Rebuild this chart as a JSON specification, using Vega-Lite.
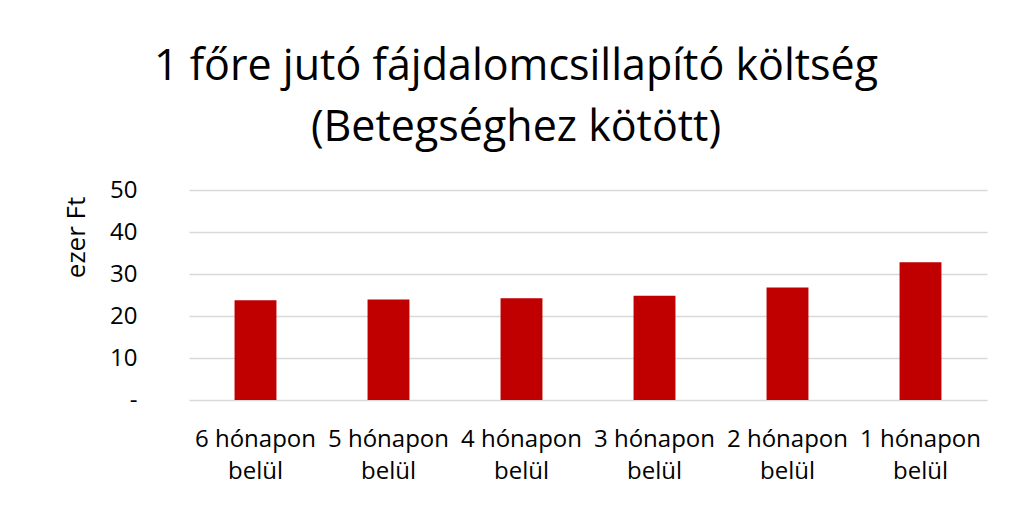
{
  "$schema": "https://vega.github.io/schema/vega-lite/v6.json",
  "width": 798,
  "height": 210,
  "autosize": "none",
  "padding": {"left": 189, "top": 190, "right": 39, "bottom": 109},
  "background": "white",
  "config": {
    "view": {"stroke": null},
    "font": "Open Sans"
  },
  "title": {
    "text": ["1 főre jutó fájdalomcsillapító költség", "(Betegséghez kötött)"],
    "fontSize": 43,
    "fontWeight": "normal",
    "color": "#000000",
    "lineHeight": 61,
    "anchor": "middle",
    "dx": -72,
    "offset": 28,
    "font": "Open Sans"
  },
  "data": {
    "values": [
      {"kategoria": "6 hónapon belül", "ertek": 23.75},
      {"kategoria": "5 hónapon belül", "ertek": 23.9},
      {"kategoria": "4 hónapon belül", "ertek": 24.2},
      {"kategoria": "3 hónapon belül", "ertek": 24.8},
      {"kategoria": "2 hónapon belül", "ertek": 26.8},
      {"kategoria": "1 hónapon belül", "ertek": 32.8}
    ]
  },
  "mark": {"type": "bar", "color": "#c00000", "width": {"band": 0.315}},
  "encoding": {
    "x": {
      "field": "kategoria",
      "type": "nominal",
      "sort": null,
      "scale": {"paddingInner": 0, "paddingOuter": 0},
      "axis": {
        "title": null,
        "labelAngle": 0,
        "labelExpr": "[slice(datum.label, 0, 9), slice(datum.label, 10)]",
        "labelFontSize": 24,
        "labelLineHeight": 32,
        "labelColor": "#000000",
        "labelPadding": 27,
        "ticks": false,
        "domain": false,
        "labelFont": "Open Sans"
      }
    },
    "y": {
      "field": "ertek",
      "type": "quantitative",
      "scale": {"domain": [0, 50]},
      "axis": {
        "title": "ezer Ft",
        "titleFontSize": 26,
        "titleFontWeight": "normal",
        "titleColor": "#000000",
        "titleX": -113,
        "titleY": 47,
        "titleAlign": "center",
        "titleBaseline": "middle",
        "titleAngle": -90,
        "titleFont": "Open Sans",
        "values": [0, 10, 20, 30, 40, 50],
        "labelExpr": "datum.value == 0 ? '-' : datum.label",
        "labelFontSize": 24,
        "labelColor": "#000000",
        "labelPadding": 52,
        "labelFont": "Open Sans",
        "ticks": false,
        "domain": false,
        "grid": true,
        "gridColor": "#d9d9d9",
        "gridWidth": 1.5
      }
    }
  }
}
